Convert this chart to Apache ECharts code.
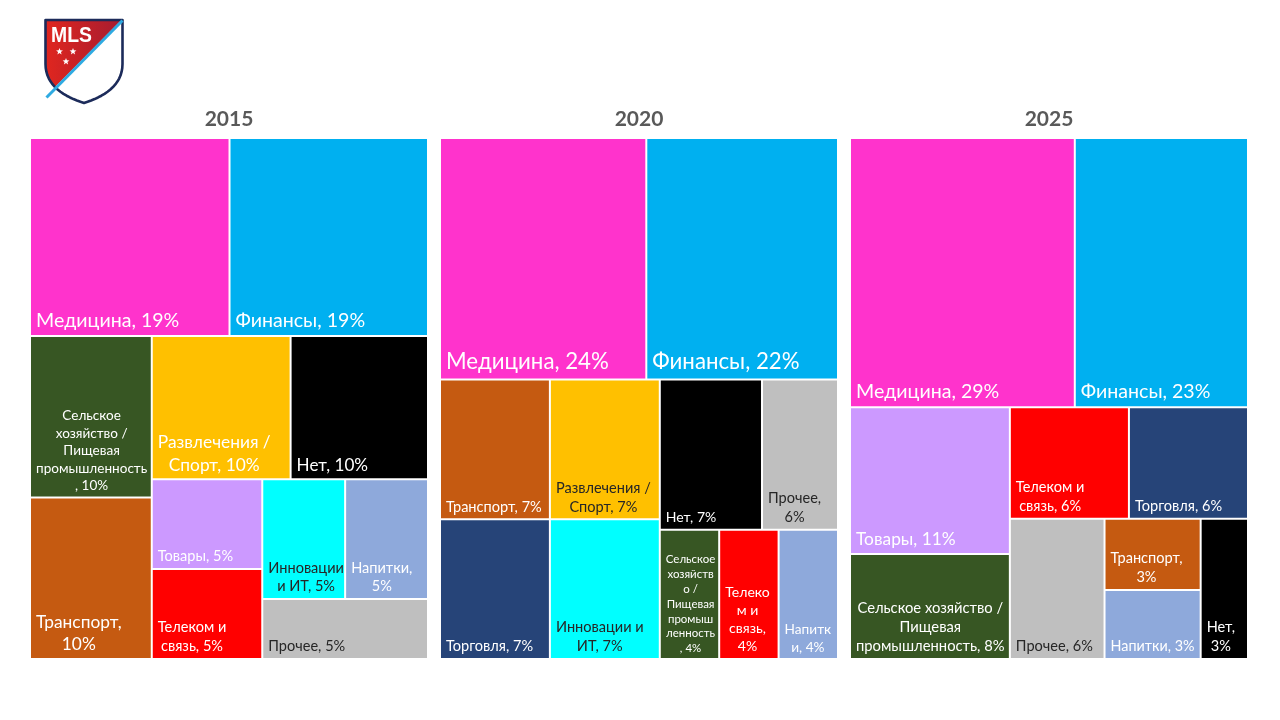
<!DOCTYPE html>
<html>
<head>
<meta charset="utf-8">
<script src="https://cdn.jsdelivr.net/npm/echarts@6/dist/echarts.min.js"></script>
<style>
html,body{margin:0;padding:0;background:#ffffff;}
#chart{width:1280px;height:720px;}
</style>
</head>
<body>
<div id="chart"></div>
<script>
// ---------------- DATA ----------------
const years = ['2015', '2020', '2025'];

const categories2015 = ['Медицина', 'Финансы', 'Сельское хозяйство / Пищевая промышленность', 'Транспорт',
  'Развлечения / Спорт', 'Нет', 'Товары', 'Телеком и связь', 'Инновации и ИТ', 'Напитки', 'Прочее'];
const values2015 = [19.1, 19.0, 9.5, 9.5, 9.6, 9.5, 4.8, 4.8, 4.8, 4.8, 4.8];
const labels2015 = ['Медицина, 19%', 'Финансы, 19%', 'Сельское\nхозяйство /\nПищевая\nпромышленность\n, 10%',
  'Транспорт,\n10%', 'Развлечения /\nСпорт, 10%', 'Нет, 10%', 'Товары, 5%', 'Телеком и\nсвязь, 5%',
  'Инновации\nи ИТ, 5%', 'Напитки,\n5%', 'Прочее, 5%'];

const categories2020 = ['Медицина', 'Финансы', 'Транспорт', 'Торговля', 'Развлечения / Спорт', 'Инновации и ИТ',
  'Нет', 'Прочее', 'Сельское хозяйство / Пищевая промышленность', 'Телеком и связь', 'Напитки'];
const values2020 = [24.0, 22.3, 7.4, 7.4, 7.4, 7.4, 7.4, 5.5, 3.7, 3.7, 3.7];
const labels2020 = ['Медицина, 24%', 'Финансы, 22%', 'Транспорт, 7%', 'Торговля, 7%', 'Развлечения /\nСпорт, 7%',
  'Инновации и\nИТ, 7%', 'Нет, 7%', 'Прочее,\n6%', 'Сельское\nхозяйств\nо /\nПищевая\nпромыш\nленность\n, 4%',
  'Телеко\nм и\nсвязь,\n4%', 'Напитк\nи, 4%'];

const categories2025 = ['Медицина', 'Финансы', 'Товары', 'Сельское хозяйство / Пищевая промышленность',
  'Телеком и связь', 'Торговля', 'Прочее', 'Транспорт', 'Напитки', 'Нет'];
const values2025 = [29.2, 22.5, 11.3, 8.1, 6.4, 6.4, 6.4, 3.3, 3.2, 3.2];
const labels2025 = ['Медицина, 29%', 'Финансы, 23%', 'Товары, 11%', 'Сельское хозяйство /\nПищевая\nпромышленность, 8%',
  'Телеком и\nсвязь, 6%', 'Торговля, 6%', 'Прочее, 6%', 'Транспорт,\n3%', 'Напитки, 3%', 'Нет,\n3%'];

// ---------------- STYLE ----------------
const COLORS = {
  'Медицина': '#FF33CC', 'Финансы': '#00B0F0', 'Сельское хозяйство / Пищевая промышленность': '#375623',
  'Транспорт': '#C55A11', 'Развлечения / Спорт': '#FFC000', 'Нет': '#000000', 'Товары': '#CC99FF',
  'Телеком и связь': '#FF0000', 'Инновации и ИТ': '#00FFFF', 'Напитки': '#8EA9DB', 'Прочее': '#BFBFBF',
  'Торговля': '#264478'
};
const DARK = '#262626';
const labelSize = {
  '2015': [19.8, 19.8, 13.7, 17.5, 17.5, 17.3, 14.7, 14.7, 14.7, 14.7, 14.7],
  '2020': [22.5, 22.5, 14.7, 14.7, 14.7, 14.7, 14.2, 14.7, 11.6, 14.2, 13.8],
  '2025': [19.8, 19.8, 17.5, 14.9, 14.7, 14.7, 14.7, 14.7, 14.5, 14.7]
};
const darkLabel = {
  '2015': ['Инновации и ИТ', 'Прочее'],
  '2020': ['Развлечения / Спорт', 'Инновации и ИТ', 'Прочее'],
  '2025': ['Прочее']
};
const FONT = 'Lato';
const FONT_K = 0.99;
const LH_K = 1.28;
const PAD_L = 5, PAD_B = 2;
const LEFTS = [31, 441, 851];
const TOP = 139, W = 396, H = 519;

const mctx = document.createElement('canvas').getContext('2d');
function textWidth(t, fs) { mctx.font = fs + 'px ' + FONT; return mctx.measureText(t).width; }

function makeLeaf(year, name, value, text, size) {
  const fs = +(size * FONT_K).toFixed(2);
  const lh = +(size * LH_K).toFixed(2);
  const w = Math.max.apply(null, text.split('\n').map(l => textWidth(l, fs)));
  return {
    name: name, value: value, labelText: text,
    itemStyle: { color: COLORS[name] },
    label: {
      show: true, fontSize: fs, lineHeight: lh, fontFamily: FONT,
      color: darkLabel[year].indexOf(name) >= 0 ? DARK : '#ffffff',
      position: [PAD_L + w / 2, '100%'], align: 'center', verticalAlign: 'bottom',
      offset: [0, -PAD_B], overflow: 'none', padding: 0
    }
  };
}
function leaves(year, cats, vals, labs) {
  return cats.map((c, i) => makeLeaf(year, c, vals[i], labs[i], labelSize[year][i]));
}
function group(children) {
  return { children: children, label: { show: false }, itemStyle: { color: '#ffffff' } };
}

const l2015 = leaves('2015', categories2015, values2015, labels2015);
const l2020 = leaves('2020', categories2020, values2020, labels2020);
const l2025 = leaves('2025', categories2025, values2025, labels2025);
// 2020: last three cells grouped so that they sit side by side
const d2020 = l2020.slice(0, 8).concat([group([l2020[8], group([l2020[9], l2020[10]])])]);

function treemap(i, data, ratio) {
  return {
    type: 'treemap', left: LEFTS[i], top: TOP, width: W, height: H,
    squareRatio: ratio, sort: false, roam: false, nodeClick: false, silent: true,
    breadcrumb: { show: false },
    itemStyle: { borderWidth: 0, gapWidth: 2, borderColor: '#ffffff' },
    upperLabel: { show: false },
    label: { show: true, formatter: p => (p.data && p.data.labelText) || '' },
    emphasis: { disabled: true },
    data: data
  };
}

// ---------------- LOGO ----------------
function cubic(p0, p1, p2, p3, n) {
  const pts = [];
  for (let k = 0; k <= n; k++) {
    const t = k / n, u = 1 - t;
    pts.push([u*u*u*p0[0] + 3*u*u*t*p1[0] + 3*u*t*t*p2[0] + t*t*t*p3[0],
              u*u*u*p0[1] + 3*u*u*t*p1[1] + 3*u*t*t*p2[1] + t*t*t*p3[1]]);
  }
  return pts;
}
const shRight = cubic([122.5, 64], [122.5, 86], [103, 97], [84, 103], 16);
const shLeft = cubic([84, 103], [65, 97], [45.5, 86], [45.5, 64], 16);
const shield = [[45.5, 20], [122.5, 20]].concat(shRight, shLeft.slice(1));
const dA = [122.5, 20.5], dB = [46.5, 97.5];
function side(p) { return (dB[0]-dA[0])*(p[1]-dA[1]) - (dB[1]-dA[1])*(p[0]-dA[0]); }
const refSide = side([45.5, 20]);
const redLeft = shLeft.filter(p => side(p) * refSide > 0);
const redPoly = [[45.5, 20], [121.5, 20]].concat(redLeft);
function star(cx, cy, R, r) {
  const pts = [];
  for (let k = 0; k < 10; k++) {
    const a = -Math.PI / 2 + k * Math.PI / 5, rr = k % 2 ? r : R;
    pts.push([cx + rr * Math.cos(a), cy + rr * Math.sin(a)]);
  }
  return pts;
}
const logo = [
  { type: 'polygon', shape: { points: redPoly }, style: { fill: new echarts.graphic.LinearGradient(0, 0, 1, 0, [{ offset: 0, color: '#e0261f' }, { offset: 1, color: '#a51c30' }]) }, z: 10 },
  { type: 'polygon', shape: { points: shield }, style: { fill: 'none', stroke: '#1c2b5a', lineWidth: 2.6, lineJoin: 'round' }, z: 11 },
  { type: 'line', shape: { x1: dA[0], y1: dA[1], x2: dB[0], y2: dB[1] }, style: { stroke: new echarts.graphic.LinearGradient(0, 0, 1, 1, [{ offset: 0, color: '#1f5d9c' }, { offset: 0.3, color: '#2a9fd8' }, { offset: 0.7, color: '#33b5ea' }, { offset: 0.88, color: '#1f5d9c' }, { offset: 1, color: '#1c2b5a' }]), lineWidth: 3 }, z: 12 },
  { type: 'text', x: 51, y: 35.5, scaleX: 0.88, style: { text: 'MLS', fill: '#ffffff', font: 'bold 22px "Liberation Sans"', align: 'left', verticalAlign: 'middle' }, z: 13 },
  { type: 'polygon', shape: { points: star(59.5, 51.5, 3.6, 1.5) }, style: { fill: '#ffffff' }, z: 13 },
  { type: 'polygon', shape: { points: star(73, 51.5, 3.6, 1.5) }, style: { fill: '#ffffff' }, z: 13 },
  { type: 'polygon', shape: { points: star(66, 61.5, 3.6, 1.5) }, style: { fill: '#ffffff' }, z: 13 }
];

// ---------------- CHART ----------------
const chart = echarts.init(document.getElementById('chart'), null, { renderer: 'canvas' });
chart.setOption({
  backgroundColor: '#ffffff',
  animation: false,
  title: years.map((y, i) => ({
    text: y, left: LEFTS[i] + W / 2, top: 109, textAlign: 'center', padding: 0,
    textStyle: { fontFamily: FONT, fontWeight: 'bold', fontSize: 21, color: '#595959' }
  })),
  graphic: logo,
  series: [treemap(0, l2015, 1), treemap(1, d2020, 1.14), treemap(2, l2025, 1)]
});
</script>
</body>
</html>
